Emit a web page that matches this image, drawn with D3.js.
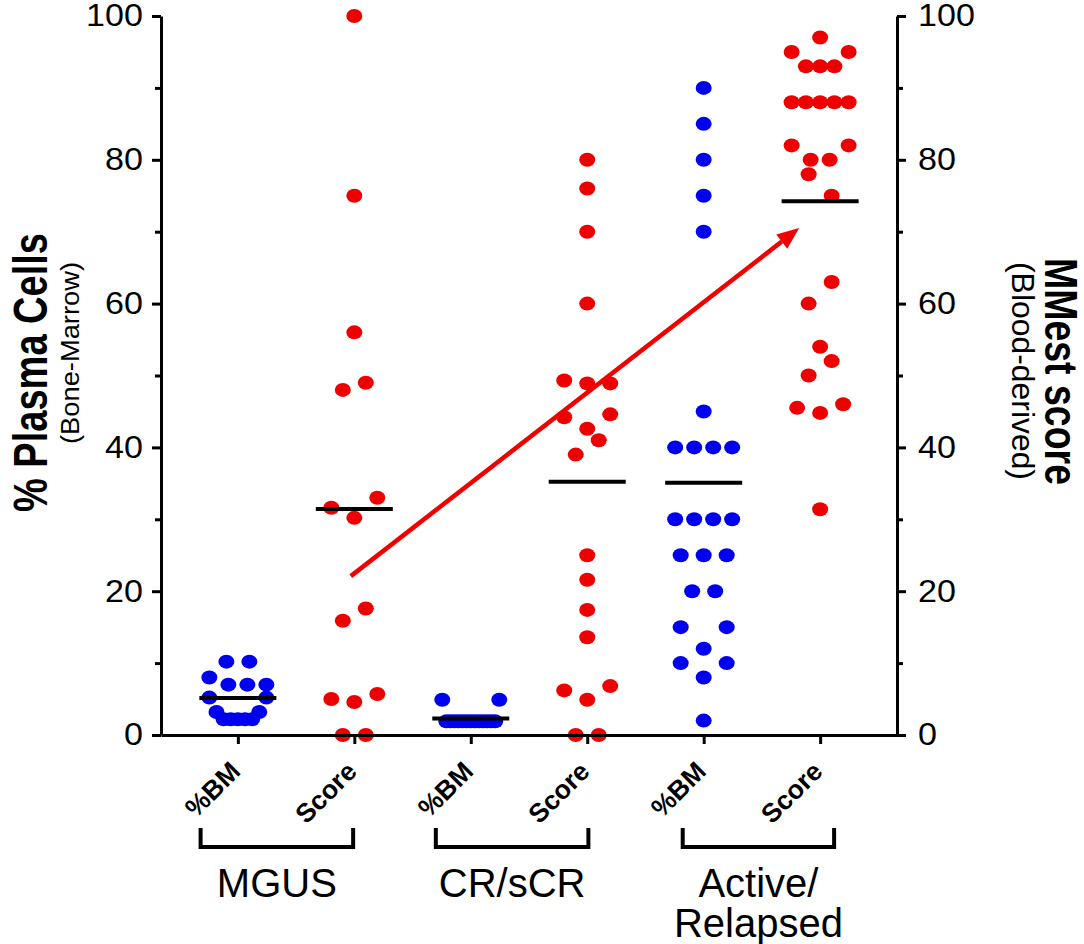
<!DOCTYPE html>
<html>
<head>
<meta charset="utf-8">
<script src="https://cdn.jsdelivr.net/npm/d3@7"></script>
<style>
  html, body { margin: 0; padding: 0; background: #ffffff; }
  svg { display: block; }
  text { font-family: "Liberation Sans", Arial, Helvetica, sans-serif; fill: #000; }
</style>
</head>
<body>
<svg id="chart" width="1084" height="944"></svg>
<script>
// ---- data -------------------------------------------------------------
const columns      = ["MGUS %BM", "MGUS Score", "CR %BM", "CR Score", "Active %BM", "Active Score"];
const columnLabels = ["%BM", "Score", "%BM", "Score", "%BM", "Score"];
const groupLabels  = [["MGUS"], ["CR/sCR"], ["Active/", "Relapsed"]];
const yTicks       = [0, 20, 40, 60, 80, 100];
const yMinorTicks  = [10, 30, 50, 70, 90];

// % plasma cells in bone marrow (blue) and blood-derived MMest score (red)
const mgusBM      = [2.2, 2.2, 2.2, 2.2, 2.2, 3.2, 3.2, 5.2, 5.2, 7, 7, 8, 7, 10.2, 10.2];
const mgusScore   = [0, 0, 4.6, 5.0, 5.7, 15.9, 17.6, 30.2, 31.6, 33, 48, 49, 56, 75, 100];
const crBM        = [1.9, 1.9, 1.9, 1.9, 1.9, 1.9, 1.9, 1.9, 1.9, 1.9, 1.9, 1.9, 1.9, 4.9, 4.9];
const crScore     = [0, 0, 4.9, 6.2, 6.8, 13.6, 17.4, 21.6, 25, 39, 41, 42.6, 44.2, 44.6,
                     48.9, 49.3, 48.9, 60, 70, 76, 80];
const activeBM    = [2, 8, 10, 10, 12, 15, 15, 20, 20, 25, 25, 25, 30, 30, 30, 30,
                     40, 40, 40, 40, 45, 70, 75, 80, 85, 90];
const activeScore = [31.4, 44.8, 45.5, 46, 50, 52, 54, 60, 63, 78, 75, 80, 80, 82, 82,
                     88, 88, 88, 88, 88, 93, 93, 93, 95, 95, 97];

const seriesValues = [mgusBM, mgusScore, crBM, crScore, activeBM, activeScore];
const seriesKind   = ["bm", "score", "bm", "score", "bm", "score"];

// trend arrow, in (column index, value) units
const trendFrom = [0.97, 22.1];
const trendTo   = [4.82, 70.5];

// ---- layout -----------------------------------------------------------
const plotLeft = 161, plotRight = 897, plotTop = 16, plotBottom = 735;
const colors = { bm: "#0000f0", score: "#ee0000" };
// group brackets, in column-index units
const groupSpans = [[-0.32, 0.99], [1.70, 3.01], [3.82, 5.12]];

const svg = d3.select("#chart");

const x = d3.scalePoint().domain(columns).range([plotLeft, plotRight]).padding(0.66);
const xi = d3.scaleLinear().domain([0, columns.length - 1])
             .range([x(columns[0]), x(columns[columns.length - 1])]);
const y = d3.scaleLinear().domain([0, 100]).range([plotBottom, plotTop]);

// column scatter: points that sit within BIN_TOL of a row's lowest value share a row;
// each row is spread symmetrically, compressed when it would exceed MAX_SPREAD.
const BIN_TOL = 3.1, SLOT_GAP = 23, MAX_SPREAD = 57;
function spread(values) {
  const order = d3.range(values.length).sort((a, b) => values[a] - values[b] || a - b);
  const rows = [];
  let cur = null;
  for (const i of order) {
    if (!cur || values[i] - cur.start > BIN_TOL) { cur = { start: values[i], idx: [] }; rows.push(cur); }
    cur.idx.push(i);
  }
  const off = new Array(values.length).fill(0);
  for (const r of rows) {
    const n = r.idx.length;
    const gap = n > 1 ? Math.min(SLOT_GAP, MAX_SPREAD / (n - 1)) : 0;
    r.idx.slice().sort((a, b) => a - b).forEach((i, k) => {
      let slot;
      if (n % 2) slot = k === 0 ? 0 : Math.ceil(k / 2) * (k % 2 ? -1 : 1);
      else slot = (Math.floor(k / 2) + 0.5) * (k % 2 ? 1 : -1);
      off[i] = slot * gap;
    });
  }
  return off;
}

const points = [];
seriesValues.forEach((vals, c) => {
  const off = spread(vals);
  vals.forEach((v, i) => points.push({ col: columns[c], kind: seriesKind[c], v, dx: off[i] }));
});

// dots
svg.append("g").selectAll("ellipse").data(points).join("ellipse")
  .attr("cx", d => x(d.col) + d.dx)
  .attr("cy", d => y(d.v))
  .attr("rx", 8).attr("ry", 7)
  .attr("fill", d => colors[d.kind]);

// mean lines
svg.append("g").selectAll("line").data(columns).join("line")
  .attr("x1", c => x(c) - 38.5)
  .attr("x2", c => x(c) + 38.5)
  .attr("y1", (c, i) => y(d3.mean(seriesValues[i])))
  .attr("y2", (c, i) => y(d3.mean(seriesValues[i])))
  .attr("stroke", "#000").attr("stroke-width", 4);

// axes
function styleAxis(g) {
  g.selectAll("path, line").attr("stroke", "#000").attr("stroke-width", 3);
  g.selectAll("text")
    .attr("font-size", 31).attr("font-family", "Liberation Sans, Arial, sans-serif").attr("fill", "#000")
    .each(function () {
      const len = this.getComputedTextLength();
      if (len > 0) d3.select(this).attr("textLength", len * 1.1).attr("lengthAdjust", "spacingAndGlyphs");
    });
}
const left = svg.append("g").attr("transform", `translate(${plotLeft},0)`)
  .call(d3.axisLeft(y).tickValues(yTicks).tickSize(9).tickSizeOuter(0).tickPadding(9));
left.call(styleAxis);
svg.append("g").attr("transform", `translate(${plotLeft},0)`)
  .call(d3.axisLeft(y).tickValues(yMinorTicks).tickSize(6).tickFormat(""))
  .call(g => g.select(".domain").remove()).call(styleAxis);

const right = svg.append("g").attr("transform", `translate(${plotRight},0)`)
  .call(d3.axisRight(y).tickValues(yTicks).tickSize(9).tickSizeOuter(0).tickPadding(12));
right.call(styleAxis);
svg.append("g").attr("transform", `translate(${plotRight},0)`)
  .call(d3.axisRight(y).tickValues(yMinorTicks).tickSize(6).tickFormat(""))
  .call(g => g.select(".domain").remove()).call(styleAxis);

const bottom = svg.append("g").attr("transform", `translate(0,${plotBottom})`)
  .call(d3.axisBottom(x).tickSize(9).tickSizeOuter(0).tickFormat(""));
bottom.call(styleAxis);

// column labels
svg.append("g").selectAll("text").data(columns).join("text")
  .attr("transform", c => `translate(${x(c) + 4},${plotBottom + 38}) rotate(-45)`)
  .attr("text-anchor", "end")
  .attr("font-size", 26.5).attr("font-weight", "bold")
  .text((c, i) => columnLabels[i]);

// group brackets and labels
const brackets = svg.append("g");
groupSpans.forEach(([a, b], i) => {
  const x1 = xi(a), x2 = xi(b), cx = (x1 + x2) / 2;
  brackets.append("path")
    .attr("d", `M${x1},${plotBottom + 93} V${plotBottom + 112} H${x2} V${plotBottom + 93}`)
    .attr("fill", "none").attr("stroke", "#000").attr("stroke-width", 4);
  const t = brackets.append("text")
    .attr("text-anchor", "middle").attr("font-size", 40)
    .attr("x", cx).attr("y", plotBottom + 162);
  groupLabels[i].forEach((line, k) => {
    t.append("tspan").attr("x", cx).attr("dy", k === 0 ? 0 : 40).text(line);
  });
});

// axis titles
svg.append("text")
  .attr("transform", `translate(47,${(233 + 512) / 2}) rotate(-90)`)
  .attr("text-anchor", "middle").attr("font-weight", "bold").attr("font-size", 48)
  .attr("textLength", 279).attr("lengthAdjust", "spacingAndGlyphs")
  .text("% Plasma Cells");
svg.append("text")
  .attr("transform", `translate(79,353) rotate(-90)`)
  .attr("text-anchor", "middle").attr("font-size", 25)
  .attr("textLength", 182).attr("lengthAdjust", "spacingAndGlyphs")
  .text("(Bone-Marrow)");
svg.append("text")
  .attr("transform", `translate(1045,371.5) rotate(90)`)
  .attr("text-anchor", "middle").attr("font-weight", "bold").attr("font-size", 47)
  .attr("textLength", 227).attr("lengthAdjust", "spacingAndGlyphs")
  .text("MMest score");
svg.append("text")
  .attr("transform", `translate(1012,371) rotate(90)`)
  .attr("text-anchor", "middle").attr("font-size", 31)
  .attr("textLength", 218).attr("lengthAdjust", "spacingAndGlyphs")
  .text("(Blood-derived)");

// trend arrow
const ax1 = xi(trendFrom[0]), ay1 = y(trendFrom[1]);
const ax2 = xi(trendTo[0]),   ay2 = y(trendTo[1]);
const ang = Math.atan2(ay2 - ay1, ax2 - ax1);
const headLen = 22, headHalf = 9;
const bx = ax2 - headLen * Math.cos(ang), by = ay2 - headLen * Math.sin(ang);
svg.append("line")
  .attr("x1", ax1).attr("y1", ay1).attr("x2", bx).attr("y2", by)
  .attr("stroke", "#f00000").attr("stroke-width", 4.5);
svg.append("path")
  .attr("d", `M${ax2},${ay2} L${bx + headHalf * Math.sin(ang)},${by - headHalf * Math.cos(ang)} ` +
             `L${bx - headHalf * Math.sin(ang)},${by + headHalf * Math.cos(ang)} Z`)
  .attr("fill", "#f00000");
</script>
</body>
</html>
